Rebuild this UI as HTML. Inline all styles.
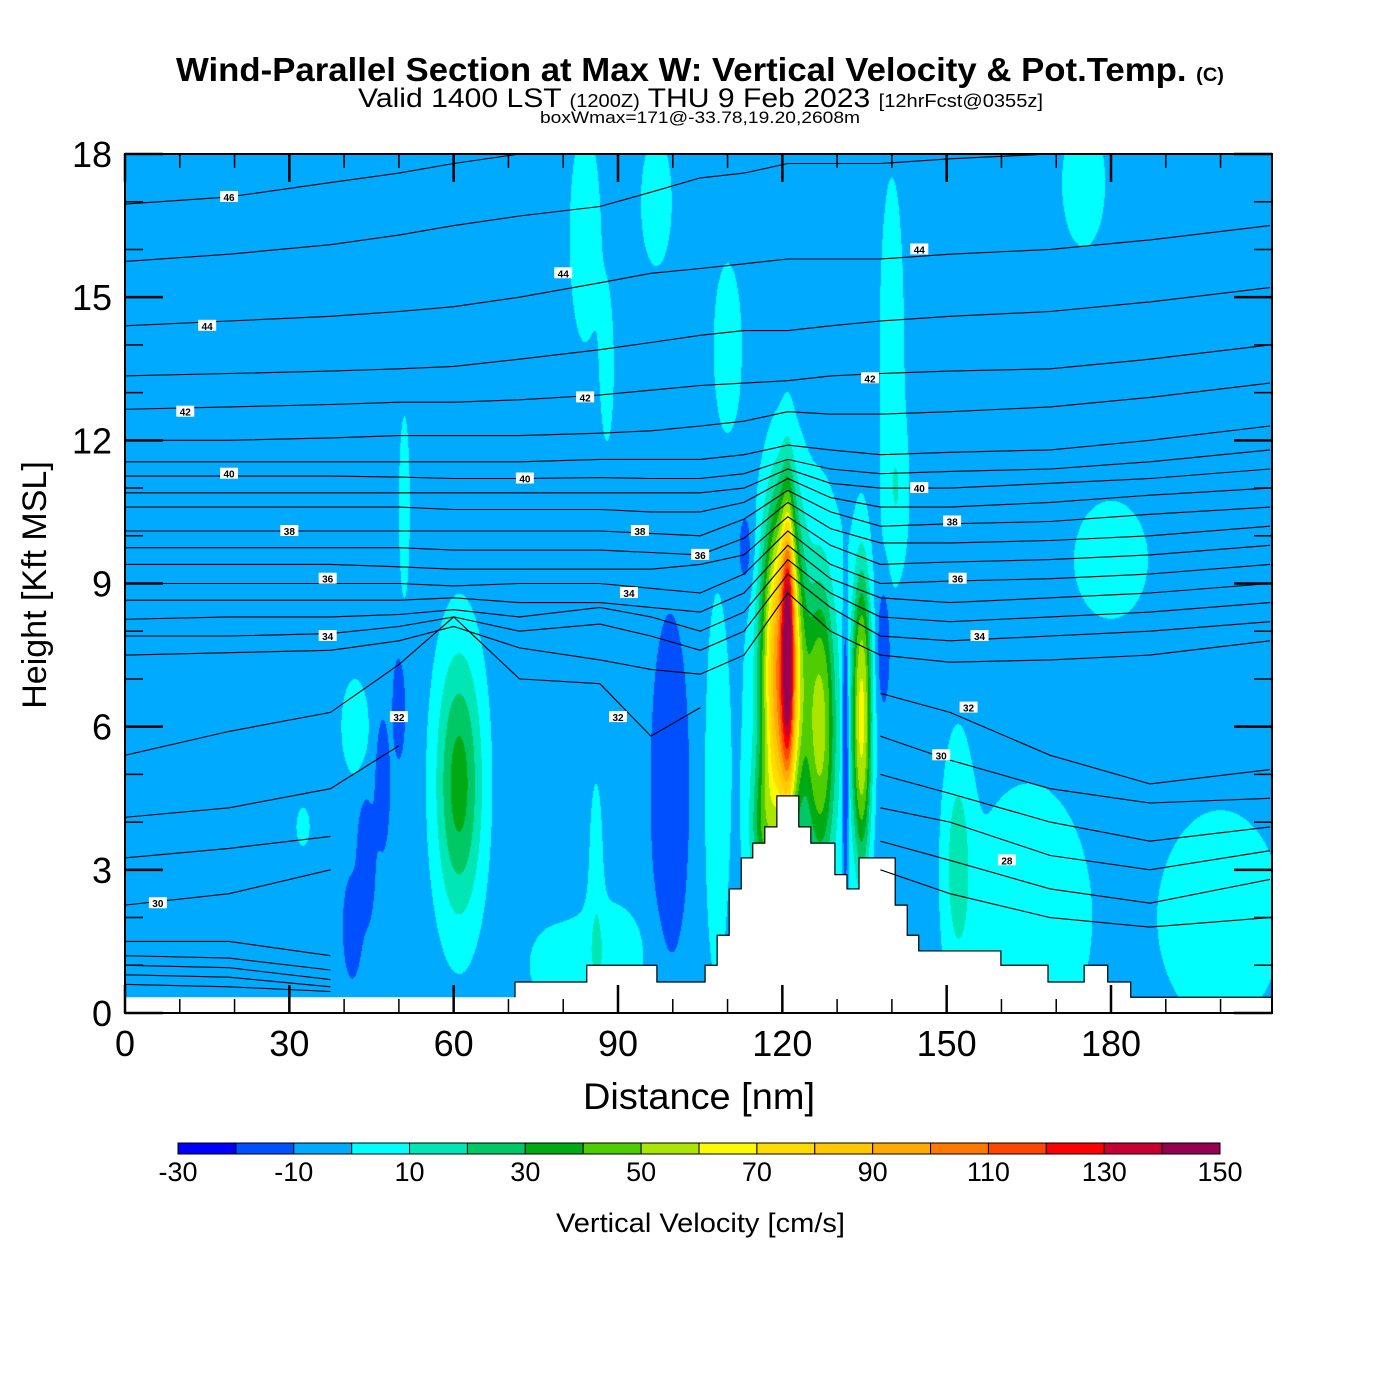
<!DOCTYPE html>
<html><head><meta charset="utf-8">
<style>
html,body{margin:0;padding:0;background:#fff;}
#wrap{position:relative;width:1400px;height:1400px;overflow:hidden;font-family:"Liberation Sans",sans-serif;}
canvas,svg{position:absolute;left:0;top:0;}
</style></head>
<body>
<div id="wrap">
<canvas id="field" width="1400" height="1400"></canvas>
<svg id="svg" width="1400" height="1400" xmlns="http://www.w3.org/2000/svg">
<text x="176" y="81" font-size="33" font-weight="bold" textLength="1048" lengthAdjust="spacingAndGlyphs" font-family="Liberation Sans, sans-serif">Wind-Parallel Section at Max W: Vertical Velocity &amp; Pot.Temp. <tspan font-size="19">(C)</tspan></text>
<text x="358" y="107" font-size="27" textLength="685" lengthAdjust="spacingAndGlyphs" font-family="Liberation Sans, sans-serif">Valid 1400 LST <tspan font-size="18">(1200Z)</tspan> THU 9 Feb 2023 <tspan font-size="18">[12hrFcst@0355z]</tspan></text>
<text x="540" y="123" font-size="17" textLength="320" lengthAdjust="spacingAndGlyphs" font-family="Liberation Sans, sans-serif">boxWmax=171@-33.78,19.20,2608m</text>
<g id="terrain"></g>
<g id="theta"></g>
<g id="axes"></g>
<g id="cbar"></g>
<text x="583" y="1109" font-size="37" textLength="232" lengthAdjust="spacingAndGlyphs" font-family="Liberation Sans, sans-serif">Distance [nm]</text>
<text transform="translate(46,585) rotate(-90)" text-anchor="middle" font-size="34" font-family="Liberation Sans, sans-serif">Height [Kft MSL]</text>
<text x="556" y="1232" font-size="27" textLength="289" lengthAdjust="spacingAndGlyphs" font-family="Liberation Sans, sans-serif">Vertical Velocity [cm/s]</text>
</svg>
</div>
<script>
// ---- data ----
const wBackground = -5;
// vertical velocity features (cm/s): center distance nm, center height kft, amplitude, half-radius nm, half-radius kft, sharpness
const blobX   = [120.0,121.0,124.0,127.0,134.5,131.5,116.5,61.0,41.5,44.0,47.0,50.0,99.5,113.3,138.5,84.0,88.0,97.0,110.0,140.0,141.0,175.0,180.0,51.0,42.0,32.5,165.0,200.0,152.0,88.0,86.0,108.0,78.0];
const blobH   = [7.2,7.8,6.0,6.0,6.2,5.5,3.8,4.8,1.8,3.2,4.8,6.4,4.7,9.7,7.7,16.3,13.5,17.0,14.0,14.0,10.8,17.4,9.5,10.6,6.0,3.9,2.0,2.0,3.2,1.2,3.0,4.6,1.0];
const blobAmp = [95,70,18,42,62,-22,30,40,-12,-12,-12,-12,-12,-12,-12,12,10,12,10,10,10,12,12,10,10,10,12,12,18,12,10,12,10];
const blobRX  = [3.2,0.9,8,2.2,1.5,0.6,2.0,3.5,1.6,1.6,1.3,1.1,3.3,1.3,1.2,2.5,1.2,2.5,2.5,2.2,1.8,3.5,6.0,1.0,2.5,1.2,10,10,2.2,6,1.2,1.8,4];
const blobRH  = [2.9,2.2,4.0,2.5,2.6,2.8,1.3,2.3,1.0,1.3,1.3,1.0,3.4,0.8,1.3,2.0,1.5,1.2,1.7,3.5,1.3,1.2,1.1,1.9,1.0,0.4,2.5,2.0,2.0,1.0,1.8,3.4,0.7];
const blobK   = [2.5,2,2,2.5,2.5,3,2,2,3,3,3,3,3,2,3,2,2,2,2,2,2,2,2,2,2,2,2,2,2,2,2,2,2];
const levels = [-30,-20,-10,0,10,20,30,40,50,60,70,80,90,100,110,120,130,140,150];
const levelColors = ["#0000ff","#0050ff","#00aaff","#00ffff","#00e6b4","#00c864","#00aa14","#50cd00","#aae600","#fafa00","#ffdc00","#ffc800","#ffaa00","#ff7800","#ff4600","#ff0000","#c80032","#960050"];
const cbarLabels = [-30,-10,10,30,50,70,90,110,130,150];
// terrain staircase: start distance (nm), height (kft)
const terrainX = [0,71.2,84.3,97.1,105.9,108.1,110.3,112.5,114.6,116.8,119.0,123.0,125.2,129.6,131.8,134.0,140.6,142.8,144.9,159.9,168.5,175.1,179.4,183.6];
const terrainH = [0.33,0.65,1.0,0.65,1.0,1.63,2.6,3.25,3.56,3.9,4.55,3.9,3.56,2.9,2.6,3.25,2.26,1.63,1.3,1.0,0.65,1.0,0.65,0.33];
// potential temperature isentropes: heights (kft) at knot distances
const thetaKnots = [0,19,37.5,50,60,72,86.7,96,105,113,121,128.8,137.9,150.6,168.9,187.1,209];
const thetaLines = [
[16.95,17.1,17.4,17.6,17.8,18.1,18.3,18.4,18.5,18.6,18.7,18.8,18.8,18.9,19,19,19],
[15.75,15.9,16.1,16.3,16.5,16.7,16.9,17.2,17.5,17.6,17.8,17.8,17.8,17.9,18,18.1,18.3],
[14.4,14.5,14.6,14.7,14.8,15.0,15.3,15.5,15.6,15.7,15.8,15.8,15.8,15.9,16.0,16.2,16.5],
[13.35,13.4,13.45,13.5,13.55,13.7,13.9,14.05,14.2,14.3,14.3,14.4,14.5,14.6,14.7,14.9,15.2],
[12.65,12.7,12.75,12.8,12.8,12.85,12.95,13.05,13.15,13.2,13.25,13.35,13.4,13.45,13.5,13.7,14.0],
[12.0,12.0,12.05,12.1,12.1,12.1,12.15,12.2,12.3,12.4,12.6,12.55,12.55,12.6,12.7,12.9,13.2],
[11.55,11.55,11.55,11.55,11.55,11.55,11.6,11.6,11.6,11.7,11.9,11.8,11.7,11.75,11.8,12.0,12.3],
[11.25,11.25,11.25,11.23,11.2,11.2,11.22,11.2,11.2,11.3,11.6,11.4,11.3,11.35,11.4,11.55,11.8],
[10.9,10.9,10.9,10.9,10.9,10.9,10.9,10.9,10.9,11.0,11.4,11.1,11.0,11.0,11.1,11.2,11.4],
[10.6,10.6,10.6,10.6,10.55,10.55,10.55,10.5,10.5,10.7,11.2,10.8,10.6,10.6,10.7,10.85,11.0],
[10.1,10.1,10.1,10.1,10.1,10.1,10.1,10.05,10.0,10.35,10.95,10.5,10.2,10.25,10.3,10.45,10.6],
[9.75,9.75,9.75,9.75,9.7,9.7,9.7,9.65,9.6,9.95,10.7,10.15,9.85,9.85,9.9,10.0,10.2],
[9.4,9.4,9.4,9.35,9.3,9.3,9.3,9.3,9.4,9.6,10.4,9.8,9.4,9.45,9.5,9.6,9.8],
[9.0,9.0,9.0,9.0,8.95,9.0,9.0,8.9,8.8,9.2,10.1,9.4,9.0,9.05,9.1,9.2,9.4],
[8.65,8.65,8.65,8.65,8.7,8.6,8.6,8.5,8.4,8.8,9.8,9.1,8.7,8.6,8.7,8.8,9.0],
[8.25,8.3,8.3,8.35,8.45,8.3,8.5,8.3,8.0,8.4,9.5,8.8,8.3,8.2,8.3,8.4,8.6],
[7.9,7.9,7.95,8.1,8.3,8.0,8.15,7.9,7.6,8.0,9.2,8.5,7.9,7.8,7.9,8.0,8.2],
[7.5,7.55,7.6,7.8,8.1,7.65,7.4,7.2,7.1,7.5,8.8,8.0,7.5,7.35,7.4,7.5,7.8],
[5.4,5.9,6.3,7.3,8.3,7.0,6.9,5.8,6.4,null,null,null,6.7,6.3,5.4,4.8,5.1],
[4.1,4.3,4.7,5.6,null,null,null,null,null,null,null,null,5.8,5.3,4.7,4.4,4.5],
[3.25,3.45,3.7,null,null,null,null,null,null,null,null,null,5.0,4.6,4.0,3.6,3.9],
[2.26,2.5,3.0,null,null,null,null,null,null,null,null,null,4.3,4.0,3.3,3.0,3.4],
[1.5,1.5,1.2,null,null,null,null,null,null,null,null,null,3.6,3.2,2.6,2.3,2.8],
[1.2,1.15,0.9,null,null,null,null,null,null,null,null,null,3.0,2.5,2.0,1.8,2.0],
[1.0,0.95,0.7,null,null,null,null,null,null,null,null,null,null,null,null,null,null],
[0.8,0.75,0.55,null,null,null,null,null,null,null,null,null,null,null,null,null,null],
[0.6,0.55,0.45,null,null,null,null,null,null,null,null,null,null,null,null,null,null]
];
// contour labels: distance, height, text
const labelX = [19,80,15,11,84,136,19,73,94,30,37,92,105,37,50,90,145,145,151,152,156,154,149,161,6];
const labelH = [17.1,15.5,14.4,12.6,12.9,13.3,11.3,11.2,10.1,10.1,9.1,8.8,9.6,7.9,6.2,6.2,16.0,11.0,10.3,9.1,7.9,6.4,5.4,3.2,2.3];
const labelT = ["46","44","44","42","42","42","40","40","38","38","36","34","36","34","32","32","44","40","38","36","34","32","30","28","30"];
const xTicks = [0,30,60,90,120,150,180];
const yTicks = [0,3,6,9,12,15,18];

// ---- axes functions ----
const X0=125, X1=1272, Y0=1013, Y1=154;
const xMax=(X1-X0)/((1111-125)/180);
const sx = d => X0 + d*(1111-125)/180;
const sy = h => Y0 - h*(Y0-Y1)/18;
const ix = px => (px-X0)*180/(1111-125);
const iy = py => (Y0-py)*18/(Y0-Y1);
const NS="http://www.w3.org/2000/svg";
function mk(tag, attrs, parent){const e=document.createElementNS(NS,tag);for(const k in attrs)e.setAttribute(k,attrs[k]);parent.appendChild(e);return e;}

// ---- field ----
const cv=document.getElementById('field'); const ctx=cv.getContext('2d');
const W=X1-X0, H=Y0-Y1;
const img=ctx.createImageData(W,H);
const rgb=levelColors.map(c=>[parseInt(c.slice(1,3),16),parseInt(c.slice(3,5),16),parseInt(c.slice(5,7),16)]);
for(let j=0;j<H;j++){const h=iy(Y1+j+0.5);
 for(let i=0;i<W;i++){const d=ix(X0+i+0.5);
  let w=wBackground;
  for(let b=0;b<blobX.length;b++){const dx=(d-blobX[b])/blobRX[b], dh=(h-blobH[b])/blobRH[b];
   const r2=dx*dx+dh*dh; if(r2>16)continue;
   w+=blobAmp[b]*Math.pow(2,-Math.pow(r2,blobK[b]/2));}
  let k=Math.floor((w-levels[0])/10); if(k<0)k=0; if(k>17)k=17;
  const p=(j*W+i)*4; img.data[p]=rgb[k][0];img.data[p+1]=rgb[k][1];img.data[p+2]=rgb[k][2];img.data[p+3]=255;}}
ctx.putImageData(img,X0,Y1);

// ---- terrain ----
const tg=document.getElementById('terrain');
let tp=`M${sx(0)},${sy(0)}`;
for(let i=0;i<terrainX.length;i++){const xe=i+1<terrainX.length?terrainX[i+1]:xMax;
 tp+=` L${sx(terrainX[i])},${sy(terrainH[i])} L${sx(xe)},${sy(terrainH[i])}`;}
tp+=` L${sx(xMax)},${sy(0)} Z`;
const terr=mk('path',{d:tp,fill:'#fff',stroke:'none'},tg);


let tl=`M${sx(terrainX[1])},${sy(terrainH[0])}`;
for(let i=1;i<terrainX.length-1;i++){const xe=terrainX[i+1];
 tl+=` L${sx(terrainX[i])},${sy(terrainH[i])} L${sx(xe)},${sy(terrainH[i])}`;}
tl+=` L${sx(terrainX[terrainX.length-1])},${sy(terrainH[terrainH.length-1])} L${sx(xMax)},${sy(terrainH[terrainH.length-1])}`;
const tline=mk('path',{d:tl,fill:'none',stroke:'#000','stroke-width':1.2},tg);



// ---- theta lines ----
const thg=document.getElementById('theta');
thetaLines.forEach((line)=>{
 let d='',pen=false;
 for(let i=0;i<thetaKnots.length;i++){const v=line[i];
  if(v===null){pen=false;continue;}
  let y=sy(v); if(y<Y1)y=Y1;
  d+=(pen?' L':' M')+sx(thetaKnots[i]).toFixed(1)+','+y.toFixed(1); pen=true;}
 const p=mk('path',{d:d,fill:'none',stroke:'#000','stroke-width':1.1},thg);
 
 
});
labelT.forEach((t,i)=>{
 const g=mk('g',{},thg);
 
 
 mk('rect',{x:sx(labelX[i])-9,y:sy(labelH[i])-6,width:18,height:11,fill:'#fff'},g);
 const tx=mk('text',{x:sx(labelX[i]),y:sy(labelH[i])+4,'text-anchor':'middle','font-size':10,'font-weight':'bold','font-family':'Liberation Sans, sans-serif'},g);
 tx.textContent=t;
});

// ---- axes ----
const ax=document.getElementById('axes');
const frame=mk('rect',{x:X0,y:Y1,width:X1-X0,height:Y0-Y1,fill:'none',stroke:'#000','stroke-width':2},ax);


for(let d=0;d<=xMax;d+=10){const maj=d%30===0;const L=maj?28:14;
 mk('line',{x1:sx(d),y1:Y0,x2:sx(d),y2:Y0-L,stroke:'#000','stroke-width':maj?2.5:1.5},ax);
 mk('line',{x1:sx(d),y1:Y1,x2:sx(d),y2:Y1+L,stroke:'#000','stroke-width':maj?2.5:1.5},ax);}
for(let h=0;h<=18;h+=1){const maj=h%3===0;const L=maj?38:18;
 mk('line',{x1:X0,y1:sy(h),x2:X0+L,y2:sy(h),stroke:'#000','stroke-width':maj?2.5:1.5},ax);
 mk('line',{x1:X1,y1:sy(h),x2:X1-L,y2:sy(h),stroke:'#000','stroke-width':maj?2.5:1.5},ax);}
xTicks.forEach(v=>{const t=mk('text',{x:sx(v),y:1056,'text-anchor':'middle','font-size':36,'font-family':'Liberation Sans, sans-serif'},ax);
 
 
 t.textContent=v;});
yTicks.forEach(v=>{const t=mk('text',{x:112,y:sy(v)+13,'text-anchor':'end','font-size':36,'font-family':'Liberation Sans, sans-serif'},ax);
 
 
 t.textContent=v;});

// ---- colorbar ----
const cb=document.getElementById('cbar');
const CX0=178, CX1=1220, CY=1143, CH=11;
const cw=(CX1-CX0)/levelColors.length;
levelColors.forEach((c,i)=>{const r=mk('rect',{x:CX0+i*cw,y:CY,width:cw,height:CH,fill:c,stroke:'#000','stroke-width':1},cb);
 
 });
cbarLabels.forEach(v=>{const t=mk('text',{x:CX0+(v-levels[0])/10*cw,y:1181,'text-anchor':'middle','font-size':27,'font-family':'Liberation Sans, sans-serif'},cb);
 
 
 t.textContent=v;});
</script>
</body></html>
